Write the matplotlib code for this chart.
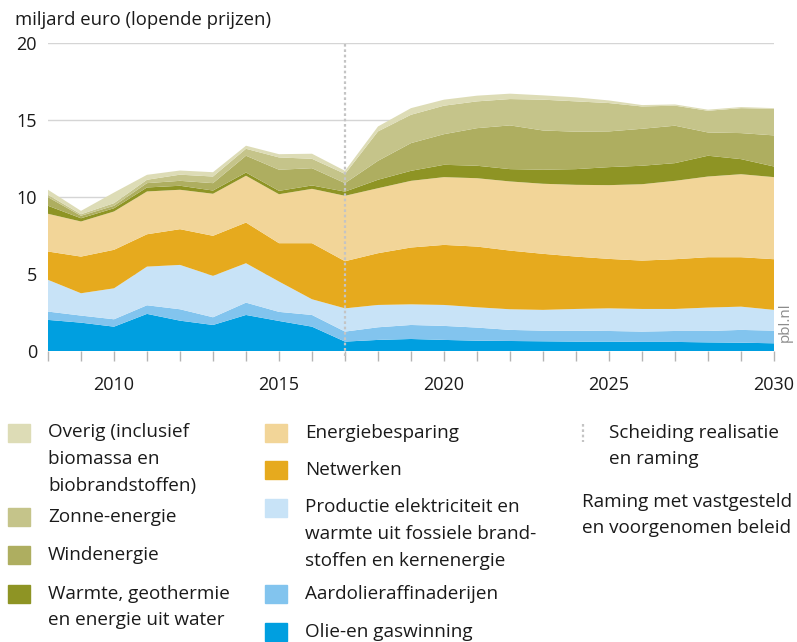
import matplotlib
matplotlib.use("Agg")
import matplotlib.pyplot as plt
from matplotlib.patches import Rectangle
from matplotlib.lines import Line2D

plt.rcParams['font.family'] = ['Open Sans', 'DejaVu Sans']

years = list(range(2008, 2031))

# Investments per category, billion euro (current prices)
olie_gaswinning = [2.02, 1.84, 1.58, 2.41, 1.97, 1.69, 2.34, 1.95, 1.58, 0.61, 0.72, 0.78,
                   0.72, 0.67, 0.65, 0.63, 0.61, 0.61, 0.59, 0.59, 0.56, 0.54, 0.50]
aardolieraffinaderijen = [0.54, 0.46, 0.48, 0.56, 0.74, 0.50, 0.80, 0.59, 0.76, 0.65, 0.82, 0.91,
                          0.91, 0.85, 0.72, 0.69, 0.71, 0.69, 0.67, 0.71, 0.74, 0.83, 0.82]
productie_elektriciteit = [2.06, 1.45, 2.01, 2.51, 2.88, 2.69, 2.56, 1.97, 1.02, 1.51, 1.45, 1.34,
                           1.36, 1.32, 1.34, 1.35, 1.41, 1.47, 1.47, 1.43, 1.52, 1.51, 1.35]
netwerken = [1.84, 2.38, 2.50, 2.10, 2.32, 2.60, 2.64, 2.49, 3.64, 3.06, 3.36, 3.69,
             3.90, 3.94, 3.81, 3.64, 3.40, 3.21, 3.14, 3.23, 3.27, 3.21, 3.29]
energiebesparing = [2.45, 2.28, 2.49, 2.78, 2.56, 2.73, 3.04, 3.18, 3.53, 4.25, 4.22, 4.33,
                    4.40, 4.44, 4.49, 4.55, 4.66, 4.79, 4.96, 5.09, 5.24, 5.39, 5.33]
warmte = [0.52, 0.21, 0.21, 0.26, 0.26, 0.21, 0.21, 0.22, 0.22, 0.27, 0.55, 0.65,
          0.80, 0.81, 0.80, 0.91, 1.02, 1.17, 1.20, 1.15, 1.35, 0.98, 0.69]
windenergie = [0.56, 0.16, 0.16, 0.28, 0.32, 0.48, 1.09, 1.37, 1.12, 0.55, 1.23, 1.80,
               1.99, 2.44, 2.84, 2.55, 2.43, 2.32, 2.40, 2.43, 1.51, 1.69, 2.02]
zonne_energie = [0.15, 0.10, 0.17, 0.22, 0.40, 0.43, 0.45, 0.80, 0.61, 0.60, 1.91, 1.84,
                 1.85, 1.74, 1.71, 2.00, 1.97, 1.84, 1.45, 1.30, 1.41, 1.62, 1.73]
overig = [0.33, 0.22, 0.69, 0.32, 0.27, 0.28, 0.20, 0.21, 0.33, 0.20, 0.32, 0.43,
          0.39, 0.37, 0.35, 0.28, 0.26, 0.17, 0.09, 0.08, 0.07, 0.07, 0.04]

series = [olie_gaswinning, aardolieraffinaderijen, productie_elektriciteit, netwerken,
          energiebesparing, warmte, windenergie, zonne_energie, overig]
colors = ['#009fe0', '#82c4ee', '#c8e3f7', '#e6aa1e', '#f2d598',
          '#8e9424', '#aeae60', '#c5c48a', '#dddcb6']

split_year = 2017
x_ticks_major = [2010, 2015, 2020, 2025, 2030]
y_ticks = [0, 5, 10, 15, 20]

W, H = 797, 642
fig = plt.figure(figsize=(W / 100, H / 100), dpi=100)


def fx(px):
    return px / W


def fy(py):
    return 1 - py / H


ax = fig.add_axes([fx(48), fy(351), fx(774) - fx(48), fy(43) - fy(351)])
ax.stackplot(years, *series, colors=colors, linewidth=0, zorder=2)
ax.set_xlim(2008, 2030)
ax.set_ylim(0, 20)
ax.set_axisbelow(True)
ax.set_yticks(y_ticks)
ax.grid(axis='y', color='#d5d5d5', linewidth=1, zorder=0)
for s in ax.spines.values():
    s.set_visible(False)

ax.set_xticks(x_ticks_major)
ax.set_xticks(years, minor=True)
ax.tick_params(axis='x', which='both', length=7, width=1, color='#b4b4b4',
               labelsize=13, labelcolor='#1a1a1a', pad=11)
ax.tick_params(axis='y', length=0, labelsize=13, labelcolor='#1a1a1a', pad=8)

ax.plot([split_year, split_year], [-0.35, 20], color='#c4c4c4', lw=1.6,
        ls=(0, (1.2, 1.2)), zorder=5, clip_on=False)

fig.text(fx(15), fy(20), 'miljard euro (lopende prijzen)', fontsize=13.3,
         color='#1a1a1a', va='center', ha='left')
fig.text(fx(785), fy(322), 'pbl.nl', fontsize=11, color='#8c8c8c',
         rotation=90, va='center', ha='center')

# Legend
txt_kw = dict(fontsize=13.6, color='#1a1a1a', va='center', ha='left', linespacing=1.62)


def patch(x, y, c):
    fig.patches.append(Rectangle((fx(x), fy(y + 9)), fx(22), 18 / H,
                                 transform=fig.transFigure, color=c))


legend_col1 = [
    ('Overig (inclusief\nbiomassa en\nbiobrandstoffen)', colors[8], 433),
    ('Zonne-energie', colors[7], 517),
    ('Windenergie', colors[6], 555),
    ('Warmte, geothermie\nen energie uit water', colors[5], 594),
]
legend_col2 = [
    ('Energiebesparing', colors[4], 433),
    ('Netwerken', colors[3], 470),
    ('Productie elektriciteit en\nwarmte uit fossiele brand-\nstoffen en kernenergie', colors[2], 508),
    ('Aardolieraffinaderijen', colors[1], 594),
    ('Olie-en gaswinning', colors[0], 632),
]
for label, c, y in legend_col1:
    patch(8, y, c)
    n = label.count('\n')
    fig.text(fx(48), fy(y + n * 13), label, **txt_kw)
for label, c, y in legend_col2:
    patch(265, y, c)
    n = label.count('\n')
    fig.text(fx(305), fy(y + n * 13), label, **txt_kw)

fig.lines.append(Line2D([fx(583), fx(583)], [fy(424), fy(442)], transform=fig.transFigure,
                        color='#c4c4c4', lw=1.6, ls=(0, (1.2, 1.2))))
fig.text(fx(609), fy(446), 'Scheiding realisatie\nen raming', **txt_kw)
fig.text(fx(582), fy(515), 'Raming met vastgesteld\nen voorgenomen beleid', **txt_kw)

fig.savefig('out.png', dpi=100)
